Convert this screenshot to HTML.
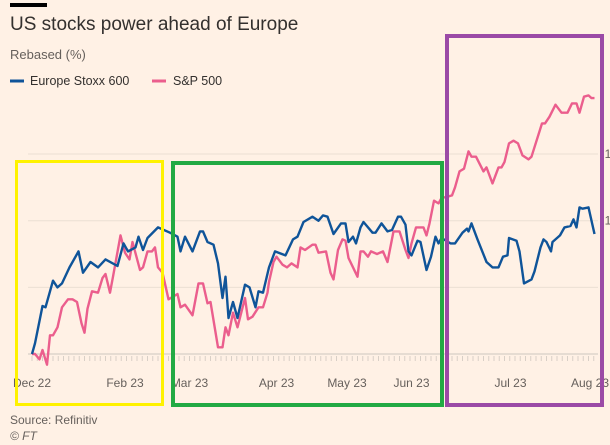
<!DOCTYPE html>
<html><head><meta charset="utf-8"><style>
body{margin:0;background:#FFF1E5;font-family:"Liberation Sans",sans-serif;}
svg{display:block}
</style></head><body>
<svg width="610" height="445" id="c">
<rect x="0" y="0" width="610" height="445" fill="#FFF1E5"/>
<rect x="10" y="3" width="37" height="4" fill="#000"/>
<text x="10" y="30" font-size="19" fill="#33302E">US stocks power ahead of Europe</text>
<text x="10" y="59" font-size="13" fill="#66605C">Rebased (%)</text>
<g>
<line x1="10" y1="81" x2="24" y2="81" stroke="#0F5499" stroke-width="3"/>
<text x="30" y="85" font-size="12.5" fill="#33302E">Europe Stoxx 600</text>
<line x1="152" y1="81" x2="166" y2="81" stroke="#EB5E8D" stroke-width="3"/>
<text x="173" y="85" font-size="12.5" fill="#33302E">S&amp;P 500</text>
</g>
<g id="grid"></g>
<g id="xax"></g>
<g id="series"></g>
<text x="10" y="424" font-size="12" fill="#66605C">Source: Refinitiv</text>
<text x="10" y="440" font-size="12" fill="#66605C" font-style="italic">© FT</text>
<rect x="16.5" y="161.5" width="146" height="243" fill="none" stroke="#FFF200" stroke-width="3"/>
<rect x="173" y="163" width="269" height="242" fill="none" stroke="#22AA44" stroke-width="4"/>
<rect x="447" y="36" width="155" height="369" fill="none" stroke="#9B4AA6" stroke-width="4"/>
</svg>
<script>
const yTicks=[0,5,10,15];
const xTickLabels=["Dec 22","Feb 23","Mar 23","Apr 23","May 23","Jun 23","Jul 23","Aug 23"];
const xTickDays=[0,62,105,163,210,253,319,372];
const euDays=[0,2,7,9,14,17,20,25,31,34,39,44,49,57,61,64,69,71,74,77,84,92,97,99,102,107,112,114,117,121,124,127,129,131,134,137,142,145,149,151,154,158,162,169,174,177,181,187,191,194,197,201,206,209,211,214,216,219,221,227,229,233,237,240,244,246,249,251,253,257,259,263,266,269,271,273,279,282,287,290,291,293,297,303,307,311,314,317,318,323,325,328,333,335,339,341,343,346,347,352,355,359,361,363,365,367,371,375];
const euValues=[0,0.8,3.6,3.5,5.5,5.0,5.3,6.5,7.7,6.1,6.9,6.5,7.1,6.6,8.3,7.7,8.0,8.8,7.8,8.7,9.5,9.1,8.8,7.7,8.8,7.7,9.2,9.2,8.4,8.2,6.8,4.2,5.8,2.7,3.9,2.7,5.2,5.0,3.5,4.7,4.6,6.5,7.7,7.4,8.6,8.8,9.9,10.3,10.0,10.4,10.3,9.0,9.8,9.8,8.4,8.8,8.3,9.5,9.9,9.1,9.1,9.8,9.2,9.3,10.3,10.3,9.7,7.7,7.4,8.5,8.4,6.3,7.3,8.8,8.3,8.7,8.3,8.3,9.1,9.4,9.2,9.8,8.6,6.9,6.5,6.5,7.3,7.4,8.7,8.5,7.7,5.3,5.6,6.2,8.0,8.6,8.4,7.7,8.4,8.9,9.5,9.6,10.1,9.5,11.0,10.9,11.0,9.0];
const spDays=[0,2,5,7,10,12,14,17,20,24,27,30,33,35,37,40,44,47,49,52,54,59,62,65,67,72,74,77,80,82,84,87,91,97,99,102,107,111,114,117,119,124,127,129,131,134,137,142,144,147,151,154,157,158,161,163,167,170,173,177,179,182,187,189,191,196,199,201,204,207,209,211,217,219,221,224,226,230,234,237,241,245,249,251,253,256,261,263,265,268,271,273,277,280,282,285,288,291,293,296,301,303,307,311,313,315,318,321,324,327,331,333,340,342,345,349,353,357,360,363,365,368,371,373,375];
const spValues=[0,0,-0.4,0.3,-0.8,1.4,1.4,2.0,3.5,4.1,4.1,3.9,2.3,1.6,3.4,4.7,4.6,5.7,6.0,4.6,5.8,8.9,7.6,7.1,8.4,6.3,6.5,7.7,7.7,8.0,6.5,6.1,4.1,4.5,3.5,3.7,2.9,5.3,5.3,3.8,3.9,0.5,0.5,2.0,1.4,3.1,2.0,4.2,2.6,2.8,3.5,3.5,4.6,5.4,6.9,7.3,6.7,6.5,6.8,6.5,8.0,7.8,8.2,8.2,7.6,7.7,6.1,5.6,7.8,8.6,8.5,7.2,5.8,7.7,7.7,7.3,7.7,7.5,7.7,6.9,9.2,9.2,7.8,7.2,8.3,9.5,9.5,8.9,9.8,11.5,11.3,11.7,11.8,11.9,12.5,13.7,13.9,15.2,14.8,14.8,13.7,14.0,12.8,14.0,14.0,14.4,15.8,16.0,15.8,14.9,14.6,14.8,17.3,17.3,17.8,18.7,18.1,18.1,18.8,18.8,18.1,19.3,19.4,19.2,19.2];

const NS="http://www.w3.org/2000/svg";
const xS=d=>32+d*1.5;
const yS=v=>354-v*13.33;
function mk(tag,attrs,parent){const e=document.createElementNS(NS,tag);for(const k in attrs)e.setAttribute(k,attrs[k]);parent.appendChild(e);return e;}
const grid=document.getElementById('grid');
yTicks.forEach(t=>{
  const l=mk('line',{x1:28,x2:598,y1:yS(t),y2:yS(t),stroke:t===0?'#CEC6BE':'#EBDFD4','stroke-width':1},grid);
  
  
  if(t>0){const tx=mk('text',{x:618,y:yS(t)+4,'font-size':12,fill:'#66605C','text-anchor':'end'},grid);tx.textContent=String(t);
  
  }
});
const xax=document.getElementById('xax');
for(let d=0;d<=375;d+=3.5){const l=mk('line',{x1:xS(d),x2:xS(d),y1:356,y2:361,stroke:'#D8CFC6','stroke-width':1},xax);

}
xTickLabels.forEach((lab,i)=>{
  const t=mk('text',{x:xS(xTickDays[i]),y:387,'font-size':12,fill:'#66605C','text-anchor':'middle'},xax);t.textContent=lab;
  
  
});
const ser=document.getElementById('series');
function line(days,vals,color,name){
  const p=days.map((d,i)=>(i?'L':'M')+xS(d).toFixed(1)+','+yS(vals[i]).toFixed(1)).join('');
  const e=mk('path',{d:p,fill:'none',stroke:color,'stroke-width':2.4,'stroke-linejoin':'round'},ser);
  
  
}
line(spDays,spValues,'#EB5E8D','sp500-line');
line(euDays,euValues,'#0F5499','europe-stoxx-600-line');
</script>
</body></html>
